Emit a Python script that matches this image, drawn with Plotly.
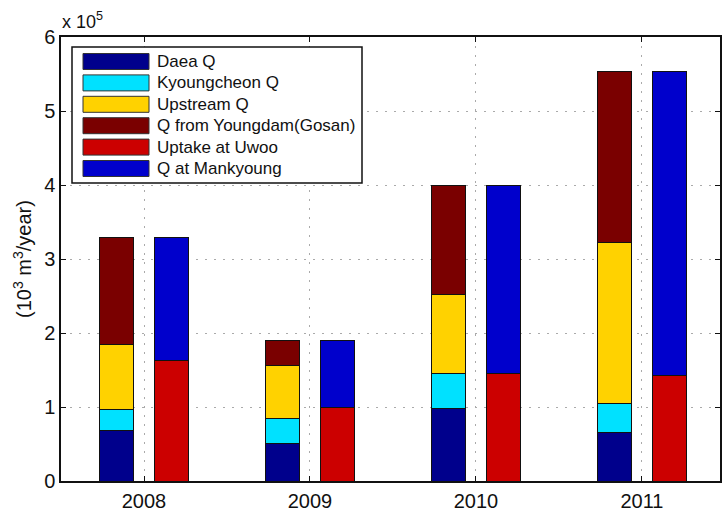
import plotly.graph_objects as go

years = ["2008", "2009", "2010", "2011"]
# values in units of 10^5 (x 10^3 m^3/year)
daea_q = [0.689, 0.509, 0.977, 0.662]
kyoungcheon_q = [0.280, 0.329, 0.473, 0.388]
upstream_q = [0.869, 0.720, 1.073, 2.175]
youngdam_q = [1.455, 0.334, 1.477, 2.305]
uptake_uwoo = [1.626, 0.991, 1.450, 1.423]
q_mankyoung = [1.667, 0.901, 2.550, 4.107]

names = ["Daea Q", "Kyoungcheon Q", "Upstream Q", "Q from Youngdam(Gosan)",
         "Uptake at Uwoo", "Q at Mankyoung"]
colors = ["#00008C", "#00E1FF", "#FFD200", "#7A0000", "#CC0000", "#0000CC"]

W, H = 722, 512
L, R, T, B = 61, 2, 37, 31
PW, PH = W - L - R, H - T - B

def px(xp):
    return (xp - L) / PW

def py(yp):
    return (H - B - yp) / PH

pos = list(range(1, len(years) + 1))
off = 0.165
bw = 0.205
left_x = [p - off for p in pos]
right_x = [p + off for p in pos]

fig = go.Figure()
left_series = [daea_q, kyoungcheon_q, upstream_q, youngdam_q]
right_series = [uptake_uwoo, q_mankyoung]
for i, s in enumerate(left_series):
    fig.add_trace(go.Bar(x=left_x, y=s, width=bw, name=names[i],
                         marker=dict(color=colors[i], line=dict(color="#111", width=1)),
                         showlegend=False))
for j, s in enumerate(right_series):
    fig.add_trace(go.Bar(x=right_x, y=s, width=bw, name=names[4 + j],
                         marker=dict(color=colors[4 + j], line=dict(color="#111", width=1)),
                         showlegend=False))

fig.update_layout(
    barmode="stack",
    width=W, height=H,
    margin=dict(l=L, r=R, t=T, b=B, pad=0),
    paper_bgcolor="white", plot_bgcolor="white",
    font=dict(family="Liberation Sans, Arial, sans-serif", size=18, color="#111"),
)
fig.update_xaxes(range=[0.5, 4.47], tickvals=pos, ticktext=years,
                 showline=True, linecolor="#111", linewidth=1.5, mirror="ticks",
                 ticks="inside", ticklen=5, tickcolor="#111",
                 showgrid=True, gridcolor="#aaaaaa", griddash="2px,7px", gridwidth=1,
                 zeroline=False, tickfont=dict(size=20), automargin=False,
                 ticklabelstandoff=1)
fig.update_yaxes(range=[0, 6], tickvals=[0, 1, 2, 3, 4, 5, 6],
                 showline=True, linecolor="#111", linewidth=1.5, mirror="ticks",
                 ticks="inside", ticklen=5, tickcolor="#111",
                 showgrid=True, gridcolor="#aaaaaa", griddash="2px,7px", gridwidth=1,
                 zeroline=False, tickfont=dict(size=20), automargin=False)

ann = []
ann.append(dict(x=px(22), y=0.5, xref="paper", yref="paper",
                text="(10<sup>3</sup> m<sup>3</sup>/year)", textangle=-90,
                showarrow=False, font=dict(size=20), xanchor="center", yanchor="middle"))
ann.append(dict(x=px(60), y=py(20), xref="paper", yref="paper",
                text="x 10<sup>5</sup>", showarrow=False, font=dict(size=18),
                xanchor="left", yanchor="middle"))

shapes = []
# legend box
shapes.append(dict(type="rect", xref="paper", yref="paper",
                   x0=px(72), x1=px(362), y0=py(183), y1=py(47),
                   line=dict(color="#111", width=1.5), fillcolor="white", layer="above"))
row0, step = 61.5, 21.4
for k, nm in enumerate(names):
    cy = row0 + k * step
    shapes.append(dict(type="rect", xref="paper", yref="paper",
                       x0=px(83), x1=px(149), y0=py(cy + 8), y1=py(cy - 8),
                       line=dict(color="#333", width=1), fillcolor=colors[k], layer="above"))
    ann.append(dict(x=px(155), y=py(cy), xref="paper", yref="paper", text=nm,
                    showarrow=False, xanchor="left", yanchor="middle",
                    font=dict(size=17)))

fig.update_layout(annotations=ann, shapes=shapes)
fig.write_html("out.html", config={"displayModeBar": False},
               post_script="document.body.style.margin='0';document.body.style.overflow='hidden';")
